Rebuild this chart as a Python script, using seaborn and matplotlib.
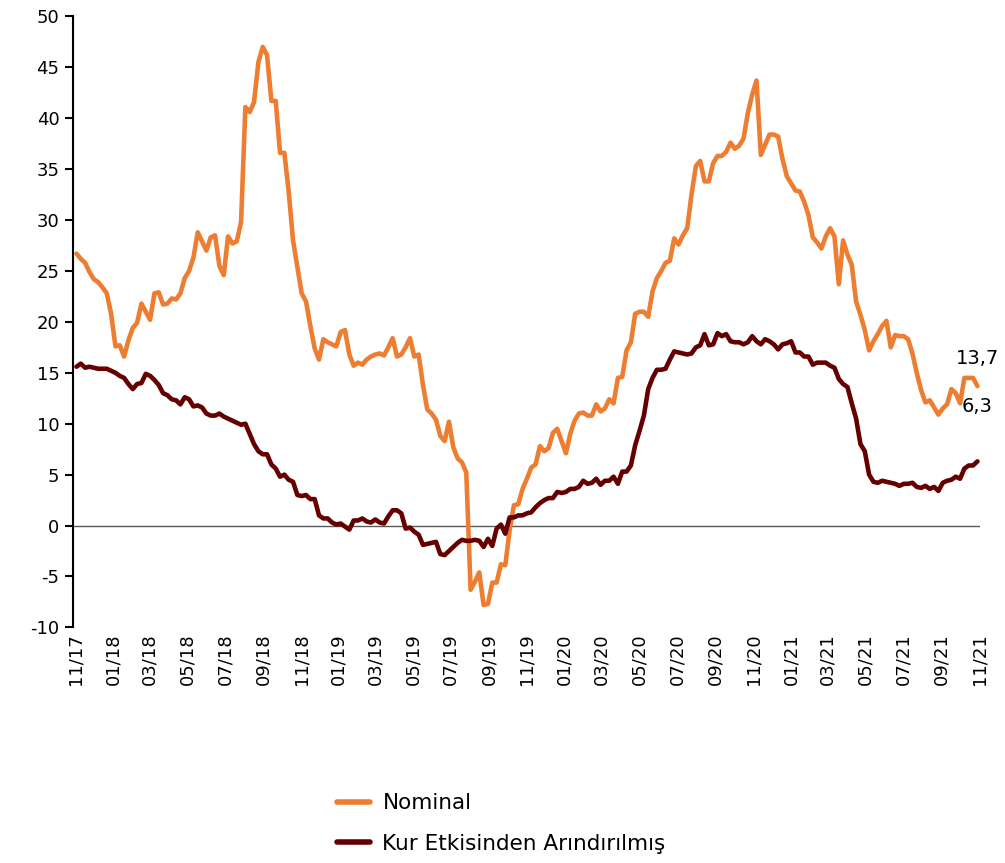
import pandas as pd
import matplotlib.pyplot as plt
import matplotlib.dates as mdates
from matplotlib.lines import Line2D
import seaborn as sns

# Weekly series, Nov 2017 - Oct 2021
nominal = [
    26.7, 26.2, 25.8, 24.9, 24.2, 23.9, 23.4, 22.8, 20.8, 17.6,
    17.7, 16.6, 18.2, 19.4, 19.9, 21.8, 21.0, 20.2, 22.8, 22.9,
    21.7, 21.8, 22.3, 22.2, 22.8, 24.3, 25.0, 26.3, 28.8, 27.9,
    27.0, 28.3, 28.5, 25.5, 24.6, 28.4, 27.7, 27.9, 29.8, 41.1,
    40.6, 41.6, 45.5, 47.0, 46.2, 41.7, 41.7, 36.6, 36.6, 32.8,
    28.0, 25.4, 22.8, 22.0, 19.6, 17.4, 16.3, 18.3, 18.0, 17.8,
    17.6, 19.0, 19.2, 16.8, 15.7, 16.0, 15.8, 16.3, 16.6, 16.8,
    16.9, 16.7, 17.5, 18.4, 16.6, 16.8, 17.5, 18.4, 16.6, 16.8,
    13.8, 11.4, 11.0, 10.4, 8.8, 8.3, 10.2, 7.7, 6.6, 6.2,
    5.2, -6.3, -5.5, -4.6, -7.8, -7.7, -5.6, -5.6, -3.8, -3.9,
    -0.5, 2.0, 2.1, 3.6, 4.6, 5.7, 6.0, 7.8, 7.3, 7.6,
    9.1, 9.5, 8.3, 7.1, 9.0, 10.3, 11.0, 11.1, 10.8, 10.8,
    11.9, 11.2, 11.5, 12.4, 12.0, 14.5, 14.6, 17.2, 18.0, 20.8,
    21.0, 21.0, 20.5, 23.0, 24.3, 25.0, 25.8, 26.0, 28.2, 27.6,
    28.5, 29.2, 32.5, 35.3, 35.8, 33.8, 33.8, 35.6, 36.3, 36.3,
    36.7, 37.6, 37.0, 37.3, 38.0, 40.5, 42.3, 43.7, 36.4, 37.4,
    38.4, 38.4, 38.2, 36.0, 34.3, 33.6, 32.9, 32.8, 31.8, 30.5,
    28.3, 27.8, 27.2, 28.4, 29.2, 28.4, 23.7, 28.0, 26.6, 25.6,
    22.0, 20.7, 19.2, 17.2, 18.1, 18.8, 19.6, 20.1, 17.5, 18.7,
    18.6, 18.6, 18.3, 16.9, 15.0, 13.3, 12.1, 12.3, 11.6, 10.9,
    11.5, 11.9, 13.4, 13.0, 12.0, 14.5, 14.5, 14.5, 13.7,
]

kur_arindirilmis = [
    15.6, 15.9, 15.5, 15.6, 15.5, 15.4, 15.4, 15.4, 15.2, 15.0,
    14.7, 14.5, 13.9, 13.4, 13.9, 14.0, 14.9, 14.7, 14.3, 13.8,
    13.0, 12.8, 12.4, 12.3, 11.9, 12.6, 12.4, 11.7, 11.8, 11.6,
    11.0, 10.8, 10.8, 11.0, 10.7, 10.5, 10.3, 10.1, 9.9, 10.0,
    9.0, 8.0, 7.3, 7.0, 7.0, 6.0, 5.6, 4.8, 5.0, 4.5,
    4.3, 3.0, 2.9, 3.0, 2.6, 2.6, 1.0, 0.7, 0.7, 0.3,
    0.1, 0.2, -0.1, -0.4, 0.5, 0.5, 0.7, 0.4, 0.3, 0.6,
    0.3, 0.2, 0.9, 1.5, 1.5, 1.2, -0.3, -0.2, -0.6, -0.9,
    -1.9, -1.8, -1.7, -1.6, -2.8, -2.9, -2.5, -2.1, -1.7, -1.4,
    -1.5, -1.5, -1.4, -1.5, -2.1, -1.3, -2.0, -0.3, 0.1, -0.8,
    0.8, 0.8, 1.0, 1.0, 1.2, 1.3, 1.8, 2.2, 2.5, 2.7,
    2.7, 3.3, 3.2, 3.3, 3.6, 3.6, 3.8, 4.4, 4.1, 4.2,
    4.6, 4.0, 4.4, 4.4, 4.8, 4.1, 5.3, 5.3, 5.9, 7.9,
    9.3, 10.8, 13.4, 14.5, 15.3, 15.3, 15.4, 16.3, 17.1, 17.0,
    16.9, 16.8, 16.9, 17.5, 17.7, 18.8, 17.7, 17.8, 18.9, 18.6,
    18.8, 18.1, 18.0, 18.0, 17.8, 18.0, 18.6, 18.1, 17.8, 18.3,
    18.1, 17.8, 17.3, 17.8, 17.9, 18.1, 17.0, 17.0, 16.6, 16.6,
    15.8, 16.0, 16.0, 16.0, 15.7, 15.5, 14.4, 13.9, 13.6, 12.0,
    10.5, 8.0, 7.3, 5.0, 4.3, 4.2, 4.4, 4.3, 4.2, 4.1,
    3.9, 4.1, 4.1, 4.2, 3.8, 3.7, 3.9, 3.6, 3.8, 3.4,
    4.2, 4.4, 4.5, 4.8, 4.6, 5.6, 5.9, 5.9, 6.3,
]

series_names = ["Nominal", "Kur Etkisinden Arındırılmış"]
colors = ["#ED7D31", "#660000"]
end_labels = ["13,7", "6,3"]

dates = pd.date_range("2017-11-03", periods=len(nominal), freq="7D")
df = pd.DataFrame({
    "Tarih": list(dates) * 2,
    "Deger": nominal + kur_arindirilmis,
    "Seri": [series_names[0]] * len(nominal) + [series_names[1]] * len(kur_arindirilmis),
})

sns.set_style("white")
plt.rcParams["font.family"] = ["DejaVu Sans"]
plt.rcParams["axes.unicode_minus"] = False
plt.rcParams["text.color"] = "black"

fig = plt.figure(figsize=(10.05, 8.63), dpi=100)
ax = fig.add_axes([0.073, 0.273, 0.902, 0.708])

sns.lineplot(data=df, x="Tarih", y="Deger", hue="Seri", palette=colors,
             linewidth=3.3, ax=ax, legend=False)

ax.axhline(0, color="#595959", linewidth=1.0, zorder=0)

ax.set_ylim(-10, 50)
ax.set_yticks(range(-10, 51, 5))
ax.set_xlim(pd.Timestamp("2017-10-29"), pd.Timestamp("2021-11-02"))
ax.xaxis.set_major_locator(mdates.MonthLocator(bymonth=[1, 3, 5, 7, 9, 11]))
ax.xaxis.set_major_formatter(mdates.DateFormatter("%m/%y"))
ax.set_xlabel("")
ax.set_ylabel("")

for side in ["top", "right", "bottom"]:
    ax.spines[side].set_visible(False)
ax.spines["left"].set_color("black")
ax.spines["left"].set_linewidth(1.5)
ax.tick_params(axis="y", left=True, length=6, width=1.5, color="black",
               labelcolor="black", labelsize=13, pad=4)
ax.tick_params(axis="x", bottom=False, labelcolor="black", labelsize=13,
               rotation=90, pad=1)

# end-of-series labels
for vals, lab, off in zip([nominal, kur_arindirilmis], end_labels, [28, 55]):
    ax.annotate(lab, xy=(dates[-1], vals[-1]), xytext=(0, off),
                textcoords="offset pixels", ha="center", va="center",
                fontsize=14, color="black")

handles = [Line2D([0], [0], color=c, linewidth=4, solid_capstyle="round") for c in colors]
fig.legend(handles, series_names, loc="center", bbox_to_anchor=(0.499, 0.046),
           frameon=False, fontsize=15.5, handlelength=1.5, handletextpad=0.6,
           labelspacing=0.95)

plt.savefig("out.png", dpi=100)
